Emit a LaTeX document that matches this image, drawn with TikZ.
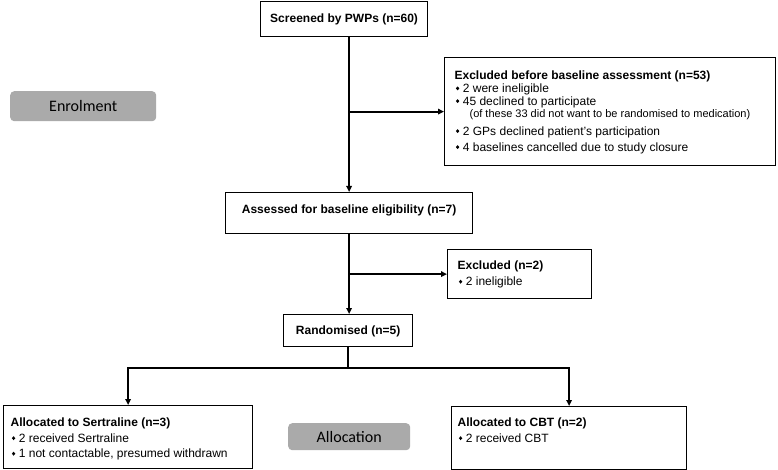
\documentclass[tikz,border=0pt]{standalone}
\usepackage{fontspec}
\setmainfont{Liberation Sans}
\newfontfamily\lblfont{Carlito}
\usetikzlibrary{arrows.meta}
\definecolor{lblgray}{RGB}{170,170,170}
\newcommand\dmd{\tikz[baseline=-4.2pt]\fill[draw=none] (0pt,0pt)--(1.7pt,2pt)--(3.4pt,0pt)--(1.7pt,-2pt)--cycle;}
\newcommand\itm{\hspace*{1.3pt}\dmd\hspace{3.6pt}}
\tikzset{
  box/.style={draw, line width=1.2pt, inner sep=0pt, anchor=north west, font=\fontsize{12}{14}\selectfont},
  conn/.style={line width=2pt},
  arr/.style={conn, -{Triangle[length=6pt,width=5.5pt]}},
  lbl/.style={fill=lblgray, rounded corners=4pt, inner sep=0pt, anchor=north west, font=\lblfont\fontsize{16}{18}\selectfont},
}
\begin{document}
\begin{tikzpicture}[x=1pt,y=-1pt]
\useasboundingbox (0,0) rectangle (778,470);

\node[box] (scr) at (260,1) {\parbox[c][35pt][t]{167pt}{\centering\rule{0pt}{21.3pt}\textbf{Screened by PWPs (n=60)}}};

\node[box] (exc) at (444,57) {\parbox[c][108pt][t]{331pt}{\raggedright\leftskip=10pt\baselineskip=12.7pt\lineskiplimit=-20pt\lineskip=0pt
\rule{0pt}{22.3pt}\textbf{Excluded before baseline assessment (n=53)}\\
\itm 2 were ineligible\\
\itm 45 declined to participate\\
\hspace*{15pt}{\fontsize{11}{12.7}\selectfont(of these 33 did not want to be randomised to medication)}\\[4.6pt]
\itm 2 GPs declined patient's participation\\[3.3pt]
\itm 4 baselines cancelled due to study closure}};

\node[lbl, minimum width=146pt, minimum height=30pt] (enr) at (10,91) {Enrolment};

\node[box] (asd) at (225,192) {\parbox[c][41pt][t]{247pt}{\centering\rule{0pt}{20.5pt}\textbf{Assessed for baseline eligibility (n=7)}}};

\node[box] (exc2) at (447,249) {\parbox[c][49pt][t]{144pt}{\raggedright\leftskip=10pt\baselineskip=16pt\lineskiplimit=-20pt\lineskip=0pt
\rule{0pt}{20.3pt}\textbf{Excluded (n=2)}\\
\itm 2 ineligible}};

\node[box] (rnd) at (283,314) {\parbox[c][32pt][t]{129pt}{\centering\rule{0pt}{20.3pt}\textbf{Randomised (n=5)}}};

\node[box] (ser) at (3,405) {\parbox[c][63pt][t]{249pt}{\raggedright\leftskip=7pt\baselineskip=15.5pt\lineskiplimit=-20pt\lineskip=0pt
\rule{0pt}{21.3pt}\textbf{Allocated to Sertraline (n=3)}\\
\itm 2 received Sertraline\\
\itm 1 not contactable, presumed withdrawn}};

\node[box] (cbt) at (451,406) {\parbox[c][63pt][t]{235pt}{\raggedright\leftskip=6pt\baselineskip=15.5pt\lineskiplimit=-20pt\lineskip=0pt
\rule{0pt}{20.3pt}\textbf{Allocated to CBT (n=2)}\\
\itm 2 received CBT}};

\node[lbl, minimum width=122pt, minimum height=27pt] (alc) at (288,423) {Allocation};

\draw[arr] (scr.south -| asd.north) -- (asd.north);
\draw[arr] (asd.north |- exc.west) -- (exc.west);
\draw[arr] (asd.south) -- (asd.south |- rnd.north);
\draw[arr] (asd.south |- exc2.west) -- (exc2.west);
\draw[arr] (rnd.south) -- ++(0,21) -| (ser.north);
\draw[arr] (rnd.south) -- ++(0,21) -| (cbt.north);
\end{tikzpicture}
\end{document}
